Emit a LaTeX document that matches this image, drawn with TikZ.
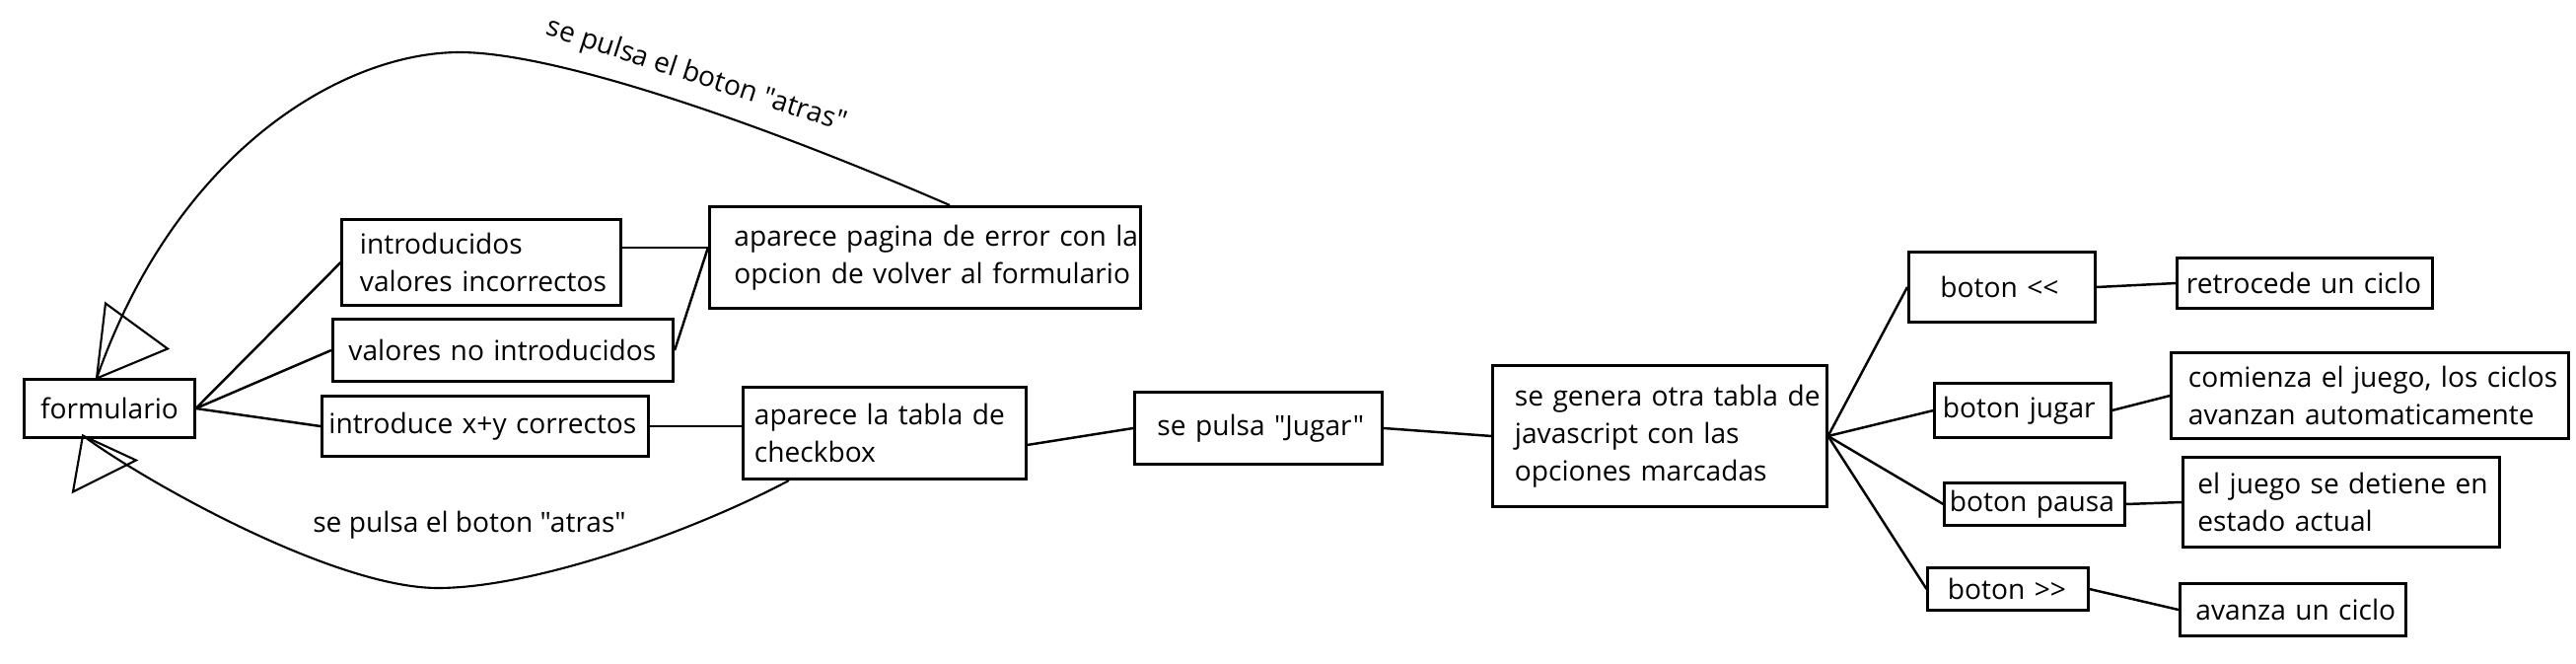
\documentclass[tikz,border=0pt]{standalone}
\usepackage{fontspec}
\newfontfamily\boxfont{Open Sans}
\usetikzlibrary{calc,positioning}

\tikzset{
	caja/.style={draw, line width=0.85pt, align=left, inner ysep=0pt,
		font=\boxfont\fontsize{8}{10.8}\selectfont},
	linea/.style={line width=0.7pt},
	vuelta/.style={line width=0.6pt},
	punta/.style={line width=0.6pt, line join=miter},
	rotulo/.style={inner sep=0pt, font=\boxfont\fontsize{8}{10.8}\selectfont}
}

\begin{document}
\begin{tikzpicture}[x=0.01cm, y=-0.01cm]

	\useasboundingbox (0,0) rectangle (2612,673);

	% formulario
	\node[caja, align=center, text width=1.52cm, inner xsep=0.1cm, minimum height=0.58cm]
		(form) at (111,414) {\mbox{formulario}};

	% ramas del formulario
	\node[caja, text width=2.46cm, inner xsep=0.18cm, minimum height=0.86cm]
		(incorr) at (488,266) {\mbox{introducidos}\\\mbox{valores incorrectos}};
	\node[caja, text width=3.13cm, inner xsep=0.16cm, minimum height=0.63cm]
		(novals) at (510,355) {\mbox{valores no introducidos}};
	\node[caja, text width=3.17cm, inner xsep=0.07cm, minimum height=0.60cm]
		(correct) at (492,432) {\mbox{introduce x+y correctos}};

	\node[caja, text width=3.87cm, inner xsep=0.25cm, minimum height=1.03cm]
		(error) at (938,261) {\mbox{aparece pagina de error con la}\\\mbox{opcion de volver al formulario}};
	\node[caja, text width=2.64cm, inner xsep=0.11cm, minimum height=0.93cm]
		(tabla) at (897,439) {\mbox{aparece la tabla de}\\\mbox{checkbox}};

	% juego
	\node[caja, text width=2.05cm, inner xsep=0.23cm, minimum height=0.73cm]
		(jugar) at (1276,434) {\mbox{se pulsa "Jugar"}};
	\node[caja, text width=2.94cm, inner xsep=0.22cm, minimum height=1.43cm]
		(genera) at (1683,442) {\mbox{se genera otra tabla de}\\\mbox{javascript con las}\\\mbox{opciones marcadas}};

	% botones
	\node[caja, text width=1.25cm, inner xsep=0.32cm, minimum height=0.70cm]
		(brev) at (2030,291) {\mbox{boton <<}};
	\node[caja, text width=1.62cm, inner xsep=0.08cm, minimum height=0.54cm]
		(bplay) at (2051,416) {\mbox{boton jugar}};
	\node[caja, text width=1.72cm, inner xsep=0.05cm, minimum height=0.42cm]
		(bpause) at (2063,511) {\mbox{boton pausa}};
	\node[caja, text width=1.22cm, inner xsep=0.20cm, minimum height=0.43cm]
		(bfwd) at (2036,597) {\mbox{boton >>}};

	% efectos
	\node[caja, text width=2.40cm, inner xsep=0.09cm, minimum height=0.51cm]
		(back1) at (2337,287) {\mbox{retrocede un ciclo}};
	\node[caja, text width=3.68cm, inner xsep=0.17cm, minimum height=0.86cm]
		(starts) at (2403,401) {\mbox{comienza el juego, los ciclos}\\\mbox{avanzan automaticamente}};
	\node[caja, text width=2.91cm, inner xsep=0.15cm, minimum height=0.90cm]
		(stops) at (2374,509) {\mbox{el juego se detiene en}\\\mbox{estado actual}};
	\node[caja, text width=1.97cm, inner xsep=0.16cm, minimum height=0.52cm]
		(step1) at (2325,618) {\mbox{avanza un ciclo}};

	% conexiones
	\coordinate (errIn) at ($(error.west)+(0,-10)$);
	\foreach \b in {incorr, novals, correct}
		\draw[linea] (form.east) -- (\b.west);
	\draw[linea] ($(incorr.east)+(0,-15)$) -- (errIn);
	\draw[linea] (novals.east) -- (errIn);
	\draw[linea] (correct.east) -- (correct.east -| tabla.west);
	\draw[linea] ($(tabla.east)+(0,12)$) -- (jugar.west);
	\draw[linea] (jugar.east) -- (genera.west);
	\foreach \b in {brev, bplay, bpause, bfwd}
		\draw[linea] (genera.east) -- (\b.west);
	\foreach \a/\b in {brev/back1, bplay/starts, bpause/stops, bfwd/step1}
		\draw[linea] (\a.east) -- (\b.west);

	% vuelta desde la pagina de error
	\coordinate (tipA) at ($(form.north)+(-13,0)$);
	\draw[vuelta] ($(error.north)+(25,0)$)
		.. controls (760,120) and (560,53) .. (466,53)
		.. controls (350,53) and (180,150) .. (tipA);
	\draw[punta] (tipA) -- ++(9,-76) -- ++(63,46) -- cycle;
	\node[rotulo, rotate=-18] (atrasA) at (706,77) {se pulsa el boton "atras"};

	% vuelta desde la tabla
	\coordinate (tipB) at ($(form.south)+(-27,-3)$);
	\draw[vuelta] ($(tabla.south)+(-97,0)$)
		.. controls (700,540) and (540,596) .. (444,596)
		.. controls (340,596) and (150,490) .. (tipB);
	\draw[punta] (tipB) -- ++(-10,57) -- ++(64,-32) -- cycle;
	\node[rotulo] (atrasB) at (476,532) {se pulsa el boton "atras"};

\end{tikzpicture}
\end{document}
